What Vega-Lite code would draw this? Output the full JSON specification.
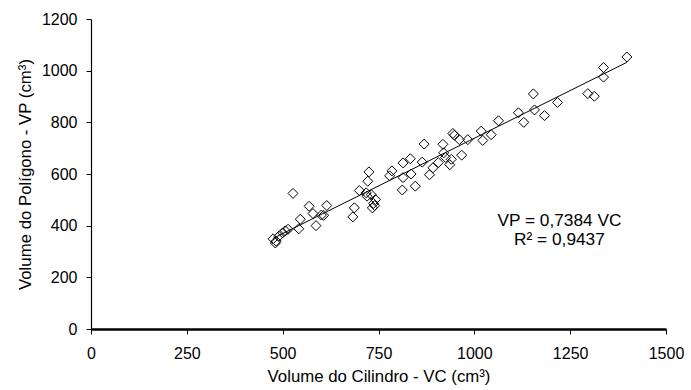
{
  "$schema": "https://vega.github.io/schema/vega-lite/v6.json",
  "autosize": "none",
  "width": 575,
  "height": 310,
  "padding": {"left": 91, "top": 19, "right": 25, "bottom": 61},
  "background": "white",
  "config": {
    "view": {"stroke": null},
    "font": "Liberation Sans",
    "axis": {
      "grid": false,
      "labelFont": "Liberation Sans",
      "titleFont": "Liberation Sans",
      "labelFontSize": 16,
      "titleFontSize": 16.8,
      "titleFontWeight": "normal",
      "labelColor": "black",
      "titleColor": "black",
      "domainColor": "black",
      "tickColor": "black",
      "tickSize": 5,
      "labelFlush": false,
      "labelOverlap": false,
      "format": "d"
    }
  },
  "datasets": {
    "pts": [
      {"vc": 475, "vp": 349}, {"vc": 481, "vp": 333}, {"vc": 483, "vp": 340}, {"vc": 490, "vp": 359},
      {"vc": 500, "vp": 372}, {"vc": 507, "vp": 380}, {"vc": 514, "vp": 386}, {"vc": 527, "vp": 525},
      {"vc": 542, "vp": 388}, {"vc": 546, "vp": 425}, {"vc": 569, "vp": 475}, {"vc": 579, "vp": 447},
      {"vc": 587, "vp": 400}, {"vc": 601, "vp": 441}, {"vc": 607, "vp": 440}, {"vc": 615, "vp": 478},
      {"vc": 683, "vp": 434}, {"vc": 687, "vp": 469}, {"vc": 700, "vp": 536}, {"vc": 718, "vp": 527},
      {"vc": 720, "vp": 514}, {"vc": 722, "vp": 572}, {"vc": 725, "vp": 608}, {"vc": 731, "vp": 520},
      {"vc": 734, "vp": 469}, {"vc": 737, "vp": 486}, {"vc": 742, "vp": 501}, {"vc": 740, "vp": 478},
      {"vc": 779, "vp": 593}, {"vc": 785, "vp": 612}, {"vc": 812, "vp": 538}, {"vc": 814, "vp": 586},
      {"vc": 814, "vp": 643}, {"vc": 833, "vp": 659}, {"vc": 835, "vp": 600}, {"vc": 846, "vp": 553},
      {"vc": 864, "vp": 646}, {"vc": 869, "vp": 716}, {"vc": 883, "vp": 597}, {"vc": 892, "vp": 624},
      {"vc": 906, "vp": 644}, {"vc": 918, "vp": 715}, {"vc": 920, "vp": 682}, {"vc": 925, "vp": 664},
      {"vc": 936, "vp": 636}, {"vc": 940, "vp": 657}, {"vc": 944, "vp": 757}, {"vc": 948, "vp": 750},
      {"vc": 961, "vp": 733}, {"vc": 967, "vp": 673}, {"vc": 983, "vp": 733}, {"vc": 1018, "vp": 766},
      {"vc": 1022, "vp": 730}, {"vc": 1044, "vp": 752}, {"vc": 1063, "vp": 806}, {"vc": 1115, "vp": 837},
      {"vc": 1129, "vp": 800}, {"vc": 1154, "vp": 910}, {"vc": 1157, "vp": 848}, {"vc": 1183, "vp": 826},
      {"vc": 1217, "vp": 877}, {"vc": 1296, "vp": 911}, {"vc": 1313, "vp": 901}, {"vc": 1337, "vp": 1012},
      {"vc": 1337, "vp": 975}, {"vc": 1398, "vp": 1053}
    ],
    "fit": [
      {"vc": 475, "vp": 350.7},
      {"vc": 1398, "vp": 1032.3}
    ],
    "notes": [
      {"vc": 1222, "vp": 417, "t": "VP = 0,7384 VC"},
      {"vc": 1222, "vp": 343, "t": "R² = 0,9437"}
    ]
  },
  "layer": [
    {
      "data": {"name": "pts"},
      "mark": {"type": "point", "shape": "diamond", "filled": false, "size": 100, "stroke": "black", "strokeWidth": 1, "opacity": 1},
      "encoding": {
        "x": {
          "field": "vc", "type": "quantitative",
          "scale": {"domain": [0, 1500], "nice": false, "zero": true},
          "axis": {"values": [0, 250, 500, 750, 1000, 1250, 1500], "domainWidth": 2.5, "tickWidth": 1, "labelPadding": 11, "titlePadding": 7, "title": "Volume do Cilindro - VC (cm³)"}
        },
        "y": {
          "field": "vp", "type": "quantitative",
          "scale": {"domain": [0, 1200], "nice": false},
          "axis": {"values": [0, 200, 400, 600, 800, 1000, 1200], "domainWidth": 1.2, "labelPadding": 9, "titlePadding": 7, "title": "Volume do Polígono - VP (cm³)"}
        }
      }
    },
    {
      "data": {"name": "fit"},
      "mark": {"type": "line", "color": "black", "strokeWidth": 1},
      "encoding": {
        "x": {"field": "vc", "type": "quantitative"},
        "y": {"field": "vp", "type": "quantitative"}
      }
    },
    {
      "data": {"name": "notes"},
      "mark": {"type": "text", "font": "Liberation Sans", "fontSize": 17.3, "color": "black", "align": "center", "baseline": "middle"},
      "encoding": {
        "x": {"field": "vc", "type": "quantitative"},
        "y": {"field": "vp", "type": "quantitative"},
        "text": {"field": "t"}
      }
    }
  ]
}
